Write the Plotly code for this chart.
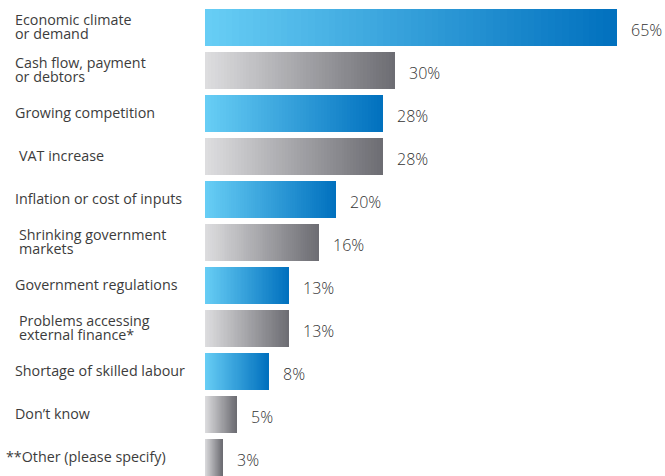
import plotly.graph_objects as go

categories = [
    "Economic climate<br>or demand",
    "Cash flow, payment<br>or debtors",
    "Growing competition",
    "VAT increase",
    "Inflation or cost of inputs",
    "Shrinking government<br>markets",
    "Government regulations",
    "Problems accessing<br>external finance*",
    "Shortage of skilled labour",
    "Don\u2019t know",
    "**Other (please specify)",
]
# bar lengths as drawn in the original (its bars are not exactly to scale)
bar_lengths = [65, 30, 28.1, 28.1, 20.7, 18, 13.3, 13.3, 10.1, 5, 2.8]
value_labels = ["65%", "30%", "28%", "28%", "20%", "16%", "13%", "13%", "8%", "5%", "3%"]
palette = ["blue", "grey", "blue", "grey", "blue", "grey", "blue", "grey", "blue", "grey", "grey"]

# gradient end points for each palette (left colour, right colour)
GRADIENTS = {
    "blue": ((104, 206, 245), (0, 112, 190)),
    "grey": ((222, 222, 224), (108, 108, 114)),
}
# small horizontal nudges of the left labels (px), as in the original layout
label_indent = [0, 0, 0, 4, 0, 4, 0, 4, 0, 0, -9]

N_STEPS = 60
LEFT_PX = 205
FONT = "Open Sans, Noto Sans, sans-serif"


def mix(c0, c1, t):
    return "rgb({:.0f},{:.0f},{:.0f})".format(*(a + (b - a) * t for a, b in zip(c0, c1)))


ypos = list(range(len(categories)))

fig = go.Figure()
# each bar is built from thin stacked slices so it can carry a left-to-right gradient
for k in range(N_STEPS):
    t = (k + 0.5) / N_STEPS
    colors = [mix(*GRADIENTS[p], t) for p in palette]
    fig.add_trace(go.Bar(
        x=[v / N_STEPS for v in bar_lengths],
        y=ypos,
        orientation="h",
        width=0.86,
        marker=dict(color=colors, line=dict(width=0)),
        hoverinfo="skip",
        showlegend=False,
    ))

annotations = []
for i, (cat, v, lab) in enumerate(zip(categories, bar_lengths, value_labels)):
    annotations.append(dict(
        x=v, y=i, xref="x", yref="y", text=lab, showarrow=False,
        xanchor="left", xshift=12, yshift=-2,
        font=dict(family=FONT, size=16, color="#333333", weight=300),
    ))
    lines = cat.split("<br>")
    n = len(lines)
    for j, line in enumerate(lines):
        # tight leading like the original: one text box per line
        annotations.append(dict(
            x=0, y=i, xref="paper", yref="y", text=line, showarrow=False,
            xanchor="left", yanchor="middle",
            xshift=13 - LEFT_PX + label_indent[i],
            yshift=((n - 1) / 2 - j) * 14 + 1,
            font=dict(family=FONT, size=14.3, color="#3c3c3c"),
        ))

fig.update_layout(
    barmode="stack",
    bargap=0,
    width=665,
    height=476,
    margin=dict(l=LEFT_PX, r=0, t=6, b=0),
    paper_bgcolor="white",
    plot_bgcolor="white",
    xaxis=dict(range=[0, 72.6], visible=False, fixedrange=True),
    yaxis=dict(range=[10.43, -0.5], visible=False, fixedrange=True),
    annotations=annotations,
)

# drop the browser's default body margin so the figure sits at the page corner
fig.write_html(
    "out.html",
    config={"displayModeBar": False},
    post_script="document.body.style.margin='0';",
)
